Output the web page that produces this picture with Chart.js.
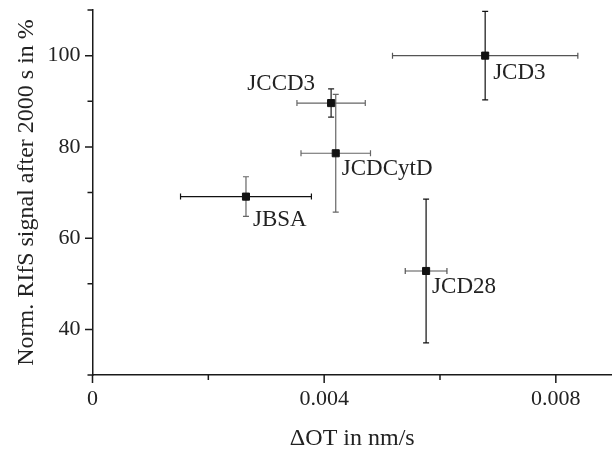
<!DOCTYPE html>
<html>
<head>
<meta charset="utf-8">
<script src="https://cdn.jsdelivr.net/npm/chart.js@4.4.1/dist/chart.umd.min.js"></script>
<style>
  html, body { margin: 0; padding: 0; background: #fff; }
  #wrap { position: relative; width: 612px; height: 451px; }
</style>
</head>
<body>
<div id="wrap"><canvas id="cv" width="612" height="451"></canvas></div>
<script>
// samples: x = ΔOT (nm/s), y = normalised RIfS signal (%)
const names   = ['JBSA', 'JCCD3', 'JCDCytD', 'JCD28', 'JCD3'];
const dotVals = [0.00265, 0.00412, 0.0042, 0.00576, 0.00678];
const dotErr  = [0.00113, 0.00059, 0.0006, 0.00036, 0.0016];
const sigVals = [69.1, 89.6, 78.6, 52.8, 100.0];
const sigErr  = [4.35, 3.1, 12.9, 15.75, 9.7];

const xMajorTicks = [0, 0.004, 0.008];
const xTickLabels = ['0', '0.004', '0.008'];
const xMinorTicks = [0.002, 0.006];
const yMajorTicks = [40, 60, 80, 100];
const yMinorTicks = [30, 50, 70, 90, 110];

// per-point look of the error bars and where each name sits
const barColX = ['#111', '#666', '#666', '#555', '#555'];
const barColY = ['#666', '#222', '#666', '#111', '#111'];
const labelPos = [
  { dx: 7, dy: 23, align: 'left' },
  { dx: -16, dy: -19, align: 'right' },
  { dx: 6, dy: 15.5, align: 'left' },
  { dx: 6, dy: 16, align: 'left' },
  { dx: 8, dy: 17, align: 'left' },
];

const FONT = '"Liberation Serif", "Times New Roman", serif';
const INK = '#1a1a1a';

const errorBars = {
  id: 'errorBars',
  beforeDatasetsDraw(chart) {
    const { ctx, scales: { x, y } } = chart;
    const cap = 3;
    ctx.save();
    ctx.lineWidth = 1.2;
    dotVals.forEach((xv, i) => {
      const px = x.getPixelForValue(xv), py = y.getPixelForValue(sigVals[i]);
      const x0 = x.getPixelForValue(xv - dotErr[i]), x1 = x.getPixelForValue(xv + dotErr[i]);
      const y0 = y.getPixelForValue(sigVals[i] - sigErr[i]), y1 = y.getPixelForValue(sigVals[i] + sigErr[i]);
      ctx.strokeStyle = barColX[i];
      ctx.beginPath();
      ctx.moveTo(x0, py); ctx.lineTo(x1, py);
      ctx.moveTo(x0, py - cap); ctx.lineTo(x0, py + cap);
      ctx.moveTo(x1, py - cap); ctx.lineTo(x1, py + cap);
      ctx.stroke();
      ctx.strokeStyle = barColY[i];
      ctx.beginPath();
      ctx.moveTo(px, y0); ctx.lineTo(px, y1);
      ctx.moveTo(px - cap, y0); ctx.lineTo(px + cap, y0);
      ctx.moveTo(px - cap, y1); ctx.lineTo(px + cap, y1);
      ctx.stroke();
    });
    ctx.restore();
  }
};

const axisMarks = {
  id: 'axisMarks',
  afterDraw(chart) {
    const { ctx, scales: { x, y }, chartArea: a } = chart;
    ctx.save();
    ctx.strokeStyle = INK;
    ctx.lineWidth = 1.5;
    ctx.beginPath();
    const tickX = (v, len) => { const p = x.getPixelForValue(v); ctx.moveTo(p, a.bottom); ctx.lineTo(p, a.bottom + len); };
    const tickY = (v, len) => { const p = y.getPixelForValue(v); ctx.moveTo(a.left, p); ctx.lineTo(a.left - len, p); };
    xMajorTicks.forEach(v => tickX(v, 8));
    xMinorTicks.forEach(v => tickX(v, 5));
    yMajorTicks.forEach(v => tickY(v, 7.5));
    yMinorTicks.forEach(v => tickY(v, 5));
    ctx.stroke();

    ctx.fillStyle = '#222';
    ctx.font = `23px ${FONT}`;
    ctx.textBaseline = 'middle';
    names.forEach((n, i) => {
      const lp = labelPos[i];
      ctx.textAlign = lp.align;
      ctx.fillText(n, x.getPixelForValue(dotVals[i]) + lp.dx, y.getPixelForValue(sigVals[i]) + lp.dy);
    });
    ctx.restore();
  }
};

new Chart(document.getElementById('cv'), {
  type: 'scatter',
  data: {
    datasets: [{
      data: dotVals.map((v, i) => ({ x: v, y: sigVals[i] })),
      pointStyle: 'rect',
      pointRadius: 5,
      pointBackgroundColor: '#111',
      pointBorderColor: '#111',
      pointBorderWidth: 1,
    }]
  },
  options: {
    responsive: false,
    animation: false,
    layout: { autoPadding: false, padding: { top: 10, right: 0, bottom: 0, left: 0 } },
    plugins: { legend: { display: false }, tooltip: { enabled: false } },
    scales: {
      x: {
        type: 'linear', min: 0, max: 0.00897,
        afterBuildTicks: s => { s.ticks = xMajorTicks.map(v => ({ value: v })); },
        afterFit: s => { s.height = 76; s.paddingLeft = 0; s.paddingRight = 0; },
        grid: { display: false, drawTicks: false },
        border: { display: true, color: INK, width: 1.5 },
        ticks: {
          color: '#222', padding: 11, maxRotation: 0, autoSkip: false,
          font: { family: FONT, size: 22 },
          callback: v => xTickLabels[xMajorTicks.indexOf(v)] ?? ''
        },
        title: {
          display: true, text: 'ΔOT in nm/s', color: '#222',
          font: { family: FONT, size: 24, lineHeight: 1 }, padding: 0
        }
      },
      y: {
        type: 'linear', min: 30, max: 110,
        afterBuildTicks: s => { s.ticks = yMajorTicks.map(v => ({ value: v })); },
        afterFit: s => { s.width = 92.5; s.paddingTop = 0; s.paddingBottom = 0; },
        grid: { display: false, drawTicks: false },
        border: { display: true, color: INK, width: 1.5 },
        ticks: {
          color: '#222', padding: 12,
          font: { family: FONT, size: 22 }
        },
        title: {
          display: true, text: 'Norm. RIfS signal after 2000 s in %', color: '#222',
          font: { family: FONT, size: 24, lineHeight: 1 }, padding: { top: 15, bottom: 0 }
        }
      }
    }
  },
  plugins: [errorBars, axisMarks]
});
</script>
</body>
</html>
